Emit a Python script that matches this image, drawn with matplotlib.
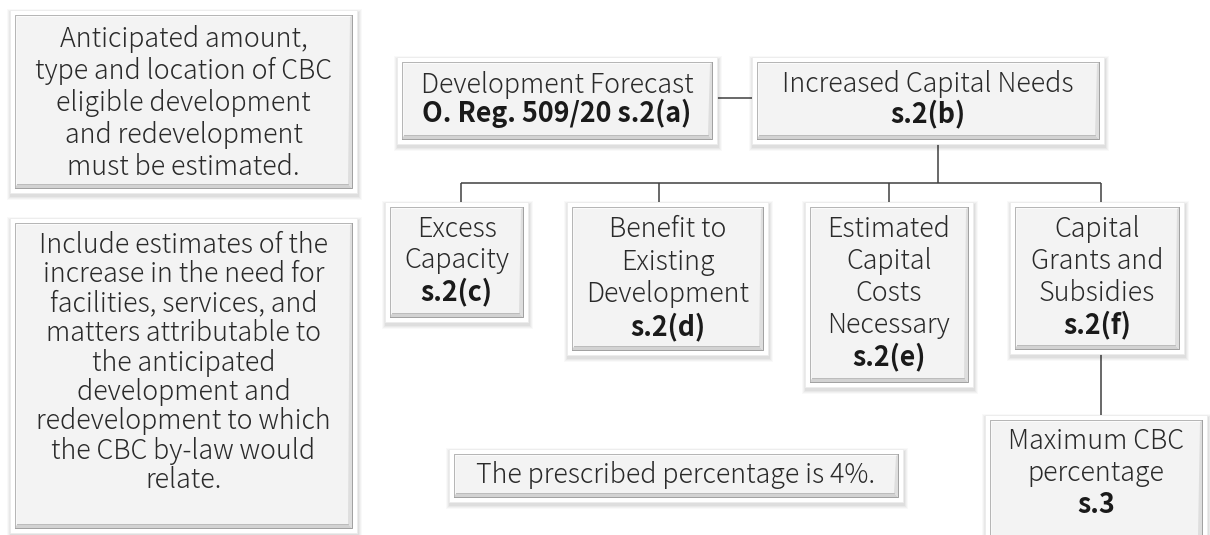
import matplotlib
matplotlib.use("Agg")
import matplotlib.pyplot as plt
from matplotlib.patches import Rectangle, Polygon

plt.rcParams['font.family'] = ['Noto Sans CJK JP', 'DejaVu Sans']

# ---- content ----
box_lines = [
    ["Anticipated amount,", "type and location of CBC", "eligible development",
     "and redevelopment", "must be estimated."],
    ["Include estimates of the", "increase in the need for", "facilities, services, and",
     "matters attributable to", "the anticipated", "development and",
     "redevelopment to which", "the CBC by-law would", "relate."],
    ["Development Forecast"],
    ["Increased Capital Needs"],
    ["Excess", "Capacity"],
    ["Benefit to", "Existing", "Development"],
    ["Estimated", "Capital", "Costs", "Necessary"],
    ["Capital", "Grants and", "Subsidies"],
    ["Maximum CBC", "percentage"],
    ["The prescribed percentage is 4%."],
]
box_bold = [None, None, "O. Reg. 509/20 s.2(a)", "s.2(b)", "s.2(c)", "s.2(d)",
            "s.2(e)", "s.2(f)", "s.3", None]

# ---- layout (pixel coordinates: x0, y0, x1, y1, first baseline, line step) ----
layout = [
    (10, 10, 357, 193, 47, 32),
    (10, 218, 357, 533, 253, 29.4),
    (397, 57, 717, 144, 93, 29),
    (752, 57, 1104, 144, 92, 30),
    (385, 202, 528, 322, 237, 31.5),
    (567, 202, 768, 355, 237, 32.7),
    (805, 202, 973, 387, 237, 32),
    (1010, 202, 1184, 354, 237, 32),
    (985, 415, 1207, 545, 449, 32),
    (449, 449, 903, 502, 483, 30),
]
connectors = [
    [(717, 98), (752, 98)],
    [(938, 144), (938, 183)],
    [(461, 183), (1101, 183)],
    [(461, 183), (461, 202)],
    [(659, 183), (659, 202)],
    [(889, 183), (889, 202)],
    [(1101, 183), (1101, 202)],
    [(1101, 354), (1101, 415)],
]

fig = plt.figure(figsize=(12.1, 5.35), dpi=100)
ax = fig.add_axes([0, 0, 1, 1])
ax.set_xlim(0, 1210)
ax.set_ylim(535, 0)
ax.axis('off')

for seg in connectors:
    (xa, ya), (xb, yb) = seg
    ax.plot([xa, xb], [ya, yb], color='#404040', lw=1.1, solid_capstyle='butt', zorder=1)


def draw_box(x0, y0, x1, y1):
    # soft shadow
    for i, a in enumerate([0.025, 0.03, 0.035, 0.04]):
        g = 4 - i
        ax.add_patch(Rectangle((x0 - g + 1, y0 - g + 3), (x1 - x0) + 2 * g, (y1 - y0) + 2 * g,
                               facecolor='black', alpha=a, edgecolor='none', zorder=2))
    # outer white frame
    ax.add_patch(Rectangle((x0, y0), x1 - x0, y1 - y0, facecolor='white',
                           edgecolor='#ececec', lw=0.6, zorder=3))
    ox0, oy0, ox1, oy1 = x0 + 5, y0 + 5, x1 - 5, y1 - 5
    # face
    ax.add_patch(Rectangle((ox0, oy0), ox1 - ox0, oy1 - oy0, facecolor='#f3f3f3',
                           edgecolor='none', zorder=4))
    b = 4
    # bottom bevel
    ax.add_patch(Polygon([(ox0, oy1), (ox1, oy1), (ox1 - b, oy1 - b), (ox0 + 2, oy1 - b)],
                         closed=True, facecolor='#d2d2d2', edgecolor='none', zorder=5))
    # right bevel
    ax.add_patch(Polygon([(ox1, oy0), (ox1, oy1), (ox1 - b, oy1 - b), (ox1 - 2, oy0 + 2)],
                         closed=True, facecolor='#dedede', edgecolor='none', zorder=5))
    # top/left highlight
    ax.add_patch(Polygon([(ox0, oy0), (ox1, oy0), (ox1 - 2, oy0 + 2), (ox0 + 2, oy0 + 2)],
                         closed=True, facecolor='#fbfbfb', edgecolor='none', zorder=5))
    ax.add_patch(Polygon([(ox0, oy0), (ox0 + 2, oy0 + 2), (ox0 + 2, oy1 - b), (ox0, oy1)],
                         closed=True, facecolor='#f8f8f8', edgecolor='none', zorder=5))
    # outlines
    ax.plot([ox0, ox0, ox1], [oy1, oy0, oy0], color='#b4b4b4', lw=0.7, zorder=6)
    ax.plot([ox0, ox1, ox1], [oy1, oy1, oy0], color='#a0a0a0', lw=0.7, zorder=6)
    ax.plot([ox0 + 2, ox1 - b], [oy1 - b, oy1 - b], color='#b8b8b8', lw=0.6, zorder=6)


for lines, bold, (x0, y0, x1, y1, base, step) in zip(box_lines, box_bold, layout):
    draw_box(x0, y0, x1, y1)
    cx = (x0 + x1) / 2
    y = base
    for ln in lines:
        ax.text(cx, y, ln, ha='center', va='baseline', fontsize=19.3,
                fontweight='light', color='#2a2a2a', zorder=7)
        y += step
    if bold:
        ax.text(cx, y, bold, ha='center', va='baseline', fontsize=19.3,
                fontweight='bold', color='#1a1a1a', zorder=7)

fig.savefig('out.png', dpi=100)
